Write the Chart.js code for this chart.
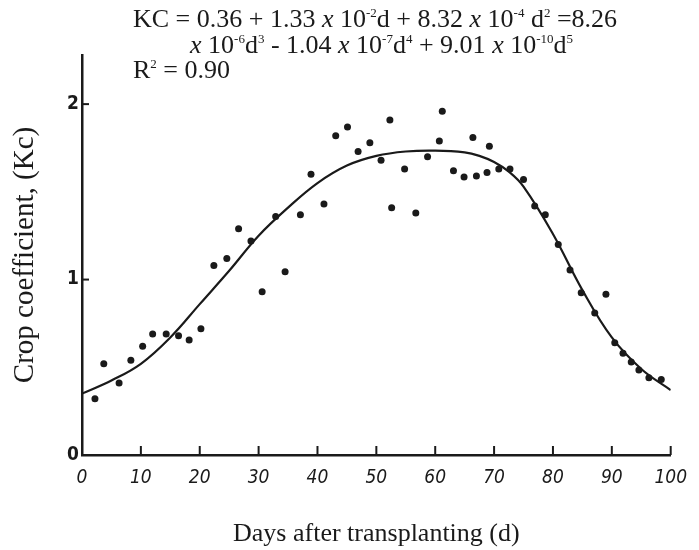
<!DOCTYPE html>
<html>
<head>
<meta charset="utf-8">
<script src="https://cdn.jsdelivr.net/npm/chart.js@4/dist/chart.umd.min.js"></script>
<style>
  html, body { margin: 0; padding: 0; background: #fff; }
  #wrap { position: relative; width: 699px; height: 550px; overflow: hidden; }
  canvas { position: absolute; left: 0; top: 0; }
  .eq { position: absolute; font-family: "Liberation Serif", "Times New Roman", serif; font-size: 26px; color: #1a1a1a; white-space: nowrap; line-height: 1; }
  .eq sup { font-size: 13px; vertical-align: 0; position: relative; top: -10px; }
  .eq i { font-style: italic; }
</style>
</head>
<body>
<div id="wrap">
  <canvas id="c" width="699" height="550"></canvas>
  <div class="eq" style="left:133px; top:6px;">KC = 0.36 + 1.33 <i>x</i> 10<sup>-2</sup>d + 8.32 <i>x</i> 10<sup>-4</sup> d<sup>2</sup> =8.26</div>
  <div class="eq" style="left:190px; top:32px;"><i>x</i> 10<sup>-6</sup>d<sup>3</sup> - 1.04 <i>x</i> 10<sup>-7</sup>d<sup>4</sup> + 9.01 <i>x</i> 10<sup>-10</sup>d<sup>5</sup></div>
  <div class="eq" style="left:133px; top:57px;">R<sup>2</sup> = 0.90</div>
</div>
<script>
// Observed crop coefficient points (days after transplanting, Kc)
const obsDays = [2.2, 3.7, 6.3, 8.3, 10.3, 12.0, 14.3, 16.4, 18.2, 20.2,
  22.4, 24.6, 26.6, 28.7, 30.6, 32.9, 34.5, 37.1, 38.9, 41.1,
  43.1, 45.1, 46.9, 48.9, 50.8, 52.3, 52.6, 54.8, 56.7, 58.7,
  60.7, 61.2, 63.1, 64.9, 66.4, 67.0, 68.8, 69.2, 70.8, 72.7,
  75.0, 76.9, 78.7, 80.9, 82.9, 84.8, 87.1, 89.0, 90.5, 91.9,
  93.3, 94.6, 96.3, 98.4];
const obsKc = [0.32, 0.52, 0.41, 0.54, 0.62, 0.69, 0.69, 0.68, 0.655, 0.72,
  1.08, 1.12, 1.29, 1.22, 0.93, 1.36, 1.045, 1.37, 1.60, 1.43,
  1.82, 1.87, 1.73, 1.78, 1.68, 1.91, 1.41, 1.63, 1.38, 1.70,
  1.79, 1.96, 1.62, 1.585, 1.81, 1.59, 1.61, 1.76, 1.63, 1.63,
  1.57, 1.42, 1.37, 1.20, 1.054, 0.925, 0.81, 0.916, 0.64, 0.58,
  0.53, 0.485, 0.44, 0.43];

// Fitted curve
const curveDays = [0, 5, 10, 15, 20, 25, 30, 35, 40, 45, 50, 55, 60, 65, 67.5, 70, 72.5, 75, 80, 85, 90, 95, 100];
const curveKc = [0.35, 0.425, 0.52, 0.67, 0.86, 1.05, 1.25, 1.41, 1.55, 1.65, 1.705, 1.73, 1.735, 1.725, 1.705, 1.67, 1.615, 1.53, 1.26, 0.94, 0.67, 0.49, 0.37];

const xTicks = [0, 10, 20, 30, 40, 50, 60, 70, 80, 90, 100];
const yTicks = [0, 1, 2];

const xTitle = "Days after transplanting (d)";
const yTitle = "Crop coefficient, (Kc)";

const inkColor = "#1a1a1a";

const innerTicks = {
  id: "innerTicks",
  afterDraw(chart) {
    const ctx = chart.ctx;
    const xs = chart.scales.x, ys = chart.scales.y;
    const a = chart.chartArea;
    ctx.save();
    ctx.strokeStyle = inkColor;
    ctx.lineWidth = 2;
    xTicks.forEach(v => {
      if (v === 0) return;
      const px = xs.getPixelForValue(v);
      ctx.beginPath();
      ctx.moveTo(px, a.bottom);
      ctx.lineTo(px, a.bottom - 9);
      ctx.stroke();
    });
    yTicks.forEach(v => {
      if (v === 0) return;
      const py = ys.getPixelForValue(v);
      ctx.beginPath();
      ctx.moveTo(a.left, py);
      ctx.lineTo(a.left + 7, py);
      ctx.stroke();
    });
    ctx.restore();
  }
};

new Chart(document.getElementById("c"), {
  type: "scatter",
  data: {
    datasets: [
      {
        type: "line",
        label: "Fitted",
        data: curveDays.map((d, i) => ({ x: d, y: curveKc[i] })),
        borderColor: inkColor,
        borderWidth: 2.2,
        pointRadius: 0,
        fill: false,
        tension: 0.4,
        order: 2
      },
      {
        label: "Observed",
        data: obsDays.map((d, i) => ({ x: d, y: obsKc[i] })),
        backgroundColor: inkColor,
        borderColor: inkColor,
        pointRadius: 3.5,
        borderWidth: 0,
        order: 1
      }
    ]
  },
  options: {
    responsive: false,
    animation: false,
    devicePixelRatio: 1,
    layout: { padding: { left: 0, top: 55, right: 16, bottom: 0 } },
    plugins: { legend: { display: false }, tooltip: { enabled: false } },
    scales: {
      x: {
        type: "linear",
        min: 0, max: 100,
        afterBuildTicks(s) { s.ticks = xTicks.map(v => ({ value: v })); },
        afterFit(s) { s.height = 95; },
        grid: { drawOnChartArea: false, drawTicks: false },
        border: { display: true, color: inkColor, width: 2.5 },
        ticks: {
          padding: 12,
          color: inkColor,
          font: { family: "'DejaVu Sans Condensed', 'DejaVu Sans', sans-serif", size: 19, style: "italic" },
          maxRotation: 0
        },
        title: {
          display: true,
          text: xTitle,
          color: inkColor,
          font: { family: "'Liberation Serif', serif", size: 26 },
          padding: { top: 12, bottom: 0 }
        }
      },
      y: {
        type: "linear",
        min: 0, max: 2.28,
        afterBuildTicks(s) { s.ticks = yTicks.map(v => ({ value: v })); },
        afterFit(s) { s.width = 82; },
        grid: { drawOnChartArea: false, drawTicks: false },
        border: { display: true, color: inkColor, width: 2.5 },
        ticks: {
          padding: 3,
          color: inkColor,
          font: { family: "'DejaVu Sans Condensed', 'DejaVu Sans', sans-serif", size: 19, weight: "bold" }
        },
        title: {
          display: true,
          text: yTitle,
          color: inkColor,
          font: { family: "'Liberation Serif', serif", size: 29 },
          padding: { top: 8, bottom: 0 }
        }
      }
    }
  },
  plugins: [innerTicks]
});
</script>
</body>
</html>
